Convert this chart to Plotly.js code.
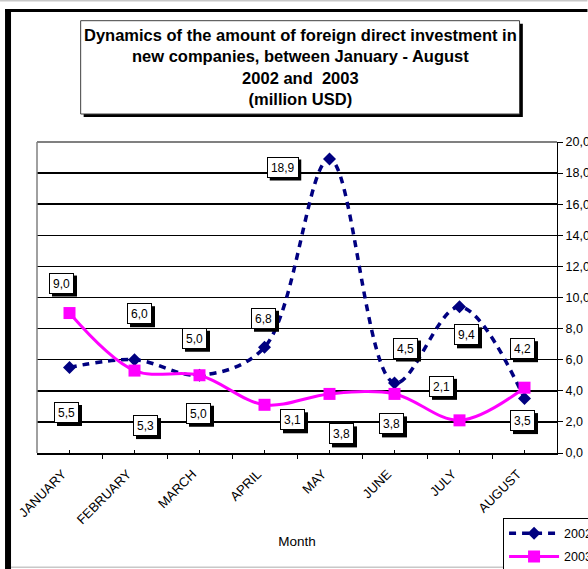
<!DOCTYPE html>
<html>
<head>
<meta charset="utf-8">
<script src="https://cdn.plot.ly/plotly-3.0.1.min.js"></script>
<style>
html,body{margin:0;padding:0;background:#fff;overflow:hidden;width:588px;height:569px;}
#chart{width:588px;height:569px;overflow:hidden;}
</style>
</head>
<body>
<div id="chart"></div>
<script>
// ---- data ----
const months = ["JANUARY","FEBRUARY","MARCH","APRIL","MAY","JUNE","JULY","AUGUST"];
const series2002 = [5.5, 6.0, 5.0, 6.8, 18.9, 4.5, 9.4, 3.5];
const series2003 = [9.0, 5.3, 5.0, 3.1, 3.8, 3.8, 2.1, 4.2];
const seriesNames = ["2002", "2003"];
const yTicks = [0, 2, 4, 6, 8, 10, 12, 14, 16, 18, 20];
const titleText = "Dynamics of the amount of foreign direct investment in<br>new companies, between January - August<br>2002 and  2003<br>(million USD)";
const xTitle = "Month";

// ---- label offsets (screen px, dx right, dy down) ----
const off2002 = [[-3,45],[5,-46],[-5,-37],[-1,-29],[-47,8],[11,-35],[7,28],[-2,22]];
const off2003 = [[-8,-30],[11,55],[-1,38],[28,15],[12,40],[-3,30],[-18,-34],[-2,-39]];

const FONT = "Liberation Sans, Arial, sans-serif";
const L = 37, T = 142, PW = 520.5, PH = 311, WIDTH = 588, HEIGHT = 569;
const px2x = p => (p - L) / PW;
const py2y = p => (T + PH - p) / PH;
const idx = months.map((_, i) => i);

const fmt = v => v.toFixed(1).replace('.', ',');

const traces = [
  {
    x: idx, y: series2002, name: seriesNames[0], legendgroup: 'g2002', type: 'scatter', mode: 'lines+markers',
    line: {color: '#000080', width: 3.5, dash: '7px,6px', shape: 'spline', smoothing: 1},
    marker: {symbol: 'diamond', size: 10, color: '#000080'}
  },
  {
    x: idx, y: series2003, name: seriesNames[1], legendgroup: 'g2003', type: 'scatter', mode: 'lines+markers',
    line: {color: '#FF00FF', width: 3, shape: 'spline', smoothing: 1},
    marker: {symbol: 'square', size: 12, color: '#FF00FF'}
  }
];

const annotations = [];
const shapes = [];
const LBL_H = 13, PAD = 3, BW = 1, SH = 3;
function addLabels(vals, offs) {
  vals.forEach((v, i) => {
    const txt = fmt(v);
    const tw = txt.length >= 4 ? 23.5 : 17;
    const ow = tw + 2 * (PAD + BW), oh = LBL_H + 2 * (PAD + BW);
    const dx = offs[i][0], dy = -offs[i][1];
    // shadow
    shapes.push({type: 'rect', layer: 'above', xref: 'x', yref: 'y',
      xsizemode: 'pixel', ysizemode: 'pixel', xanchor: i, yanchor: v,
      x0: dx - ow / 2 + SH, x1: dx + ow / 2 + SH, y0: dy - oh / 2 - SH, y1: dy + oh / 2 - SH,
      fillcolor: '#000', line: {width: 0}});
    annotations.push({xref: 'x', yref: 'y', x: i, y: v, text: txt, showarrow: false,
      xshift: dx, yshift: dy, width: tw, height: LBL_H, align: 'center', valign: 'middle',
      font: {family: FONT, size: 12, color: '#000'}, borderpad: PAD, borderwidth: BW,
      bgcolor: '#fff', bordercolor: '#000'});
  });
}
addLabels(series2002, off2002);
addLabels(series2003, off2003);

annotations.push({
  xref: 'paper', yref: 'paper', x: px2x(300.3), y: py2y(67), xanchor: 'center', yanchor: 'middle',
  text: titleText, showarrow: false, align: 'center',
  font: {family: FONT, size: 16.5, color: '#000', weight: 'bold'}
});

shapes.push(
  // outer frame
  {type: 'rect', xref: 'paper', yref: 'paper', x0: px2x(0), x1: px2x(WIDTH), y0: py2y(0), y1: py2y(1.5), fillcolor: '#c8c8c8', line: {width: 0}},
  {type: 'rect', xref: 'paper', yref: 'paper', x0: px2x(5), x1: px2x(WIDTH), y0: py2y(9), y1: py2y(12), fillcolor: '#000', line: {width: 0}},
  {type: 'rect', xref: 'paper', yref: 'paper', x0: px2x(5), x1: px2x(11), y0: py2y(9), y1: py2y(HEIGHT), fillcolor: '#000', line: {width: 0}},
  {type: 'rect', xref: 'paper', yref: 'paper', x0: px2x(11), x1: px2x(WIDTH), y0: py2y(566.5), y1: py2y(568), fillcolor: '#c8c8c8', line: {width: 0}},
  // title box
  {type: 'rect', xref: 'paper', yref: 'paper', x0: px2x(83.7), x1: px2x(523.3), y0: py2y(117), y1: py2y(23.7), fillcolor: '#000', line: {width: 0}},
  {type: 'rect', xref: 'paper', yref: 'paper', x0: px2x(80.7), x1: px2x(520), y0: py2y(114), y1: py2y(20.7), fillcolor: '#fff', line: {color: '#404040', width: 1}},
  // plot area gray border (left + top)
  {type: 'line', xref: 'paper', yref: 'paper', x0: 0, x1: 1, y0: 1, y1: 1, line: {color: '#808080', width: 2}},
  {type: 'line', xref: 'paper', yref: 'paper', x0: 0, x1: 0, y0: 0, y1: 1, line: {color: '#808080', width: 1.5}}
);

const layout = {
  width: WIDTH, height: HEIGHT,
  margin: {l: L, r: WIDTH - L - PW, t: T, b: HEIGHT - T - PH, pad: 0, autoexpand: false},
  paper_bgcolor: '#fff', plot_bgcolor: '#fff',
  separators: ',.',
  font: {family: FONT, size: 12, color: '#000'},
  showlegend: true,
  xaxis: {
    type: 'linear', range: [-0.5, 7.5], fixedrange: true,
    tickmode: 'array', tickvals: idx, ticktext: months, tickangle: -45,
    ticks: 'inside', ticklen: 3, tickcolor: '#000', tickwidth: 1,
    minor: {tickmode: 'array', tickvals: [-0.5,0.5,1.5,2.5,3.5,4.5,5.5,6.5,7.5], ticks: 'outside', ticklen: 4, tickcolor: '#000', tickwidth: 1},
    showline: true, linecolor: '#000', linewidth: 1.5, showgrid: false, zeroline: false,
    tickfont: {family: FONT, size: 13, color: '#000'},
    ticklabelstandoff: 7, ticklabelshift: -7,
    title: {text: xTitle, font: {family: FONT, size: 13.5, color: '#000'}, standoff: 10},
    automargin: false
  },
  yaxis: {
    side: 'right', range: [0, 20], fixedrange: true,
    tickmode: 'array', tickvals: yTicks, tickformat: '.1f',
    ticks: 'outside', ticklen: 5, tickcolor: '#000', tickwidth: 1,
    showline: true, linecolor: '#000', linewidth: 1,
    showgrid: true, gridcolor: '#000', gridwidth: 1.5, zeroline: false,
    tickfont: {family: FONT, size: 12.5, color: '#000'},
    automargin: false
  },
  legend: {
    x: px2x(503.5), y: py2y(517.5), xanchor: 'left', yanchor: 'top',
    bgcolor: '#fff', bordercolor: '#000', borderwidth: 1,
    font: {family: FONT, size: 12.5, color: '#000'},
    itemwidth: 50, traceorder: 'grouped', tracegroupgap: 4
  },
  shapes: shapes,
  annotations: annotations
};

Plotly.newPlot('chart', traces, layout, {displayModeBar: false, staticPlot: true});
</script>
</body>
</html>
